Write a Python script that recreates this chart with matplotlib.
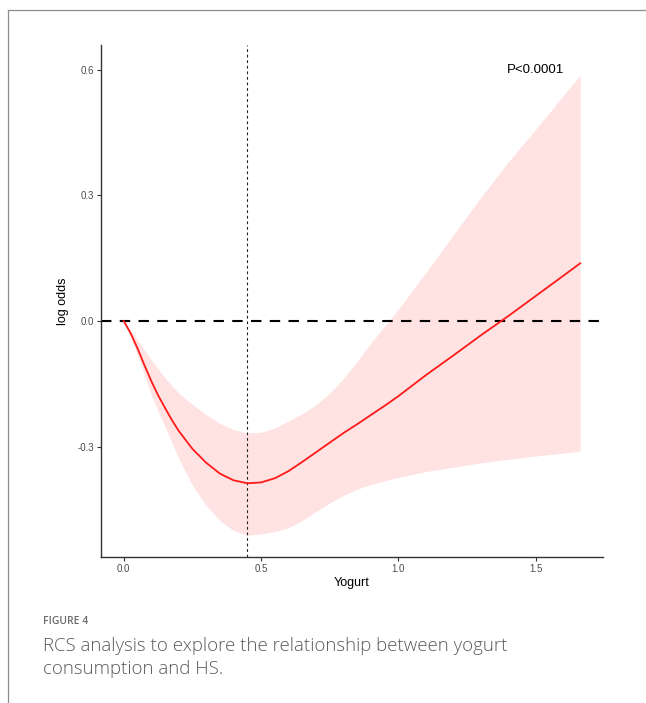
import matplotlib
matplotlib.use('Agg')
import matplotlib.pyplot as plt
from matplotlib.lines import Line2D

# Curva RCS (log odds) para el consumo de yogur, con su intervalo de confianza
yogurt = [0.0, 0.025, 0.05, 0.075, 0.1, 0.125, 0.15, 0.175, 0.2, 0.25, 0.3,
          0.35, 0.4, 0.45, 0.5, 0.55, 0.6, 0.65, 0.7, 0.75, 0.8, 0.85, 0.9,
          0.95, 1.0, 1.1, 1.2, 1.3, 1.4, 1.5, 1.6, 1.662]
log_odds = [0.0, -0.029, -0.065, -0.105, -0.143, -0.177, -0.207, -0.236, -0.262,
            -0.305, -0.338, -0.364, -0.380, -0.387, -0.385, -0.375, -0.358,
            -0.336, -0.313, -0.290, -0.267, -0.246, -0.224, -0.202, -0.179,
            -0.129, -0.082, -0.034, 0.012, 0.060, 0.108, 0.138]
ic_sup = [0.0, -0.022, -0.045, -0.069, -0.092, -0.114, -0.135, -0.154, -0.172,
          -0.199, -0.223, -0.244, -0.259, -0.267, -0.265, -0.255, -0.238,
          -0.221, -0.200, -0.172, -0.137, -0.096, -0.052, -0.012, 0.028,
          0.116, 0.206, 0.295, 0.380, 0.458, 0.538, 0.587]
ic_inf = [0.0, -0.038, -0.080, -0.128, -0.176, -0.215, -0.252, -0.290, -0.328,
          -0.392, -0.440, -0.476, -0.500, -0.511, -0.508, -0.502, -0.493,
          -0.476, -0.455, -0.434, -0.416, -0.401, -0.390, -0.381, -0.373,
          -0.359, -0.349, -0.338, -0.330, -0.322, -0.315, -0.310]

x_ticks = [0.0, 0.5, 1.0, 1.5]
y_ticks = [-0.3, 0.0, 0.3, 0.6]
corte = 0.45
etiqueta_p = 'P<0.0001'

W, H = 646, 703
fig = plt.figure(figsize=(W / 100, H / 100), dpi=100)

# marco de la página
fig.add_artist(Line2D([8 / W, 1], [1 - 10 / H, 1 - 10 / H], color='#8c8c8c', lw=0.9))
fig.add_artist(Line2D([8 / W, 8 / W], [0, 1 - 10 / H], color='#8c8c8c', lw=0.9))

ax = fig.add_axes([101 / W, 1 - 557 / H, (603 - 101) / W, (557 - 45) / H])

ax.fill_between(yogurt, ic_inf, ic_sup, color='#ffe2e2', lw=0, zorder=1)
ax.plot(yogurt, log_odds, color='#ff1a1a', lw=1.3, zorder=3)
ax.axhline(0, color='black', lw=1.5, dashes=(5, 4), zorder=2)
ax.axvline(corte, color='#222222', lw=0.8, dashes=(2.5, 2.5), zorder=2)

ax.text(1.5, 0.6, etiqueta_p, ha='center', va='center', fontsize=9.5,
        family='Liberation Sans', color='black')

ax.set_xlim(-0.083, 1.745)
ax.set_ylim(-0.563, 0.659)
ax.set_xticks(x_ticks)
ax.set_xticklabels(['%.1f' % t for t in x_ticks])
ax.set_yticks(y_ticks)
ax.set_yticklabels(['%.1f' % t for t in y_ticks])

for s in ['top', 'right']:
    ax.spines[s].set_visible(False)
for s in ['left', 'bottom']:
    ax.spines[s].set_color('#333333')
    ax.spines[s].set_linewidth(1.0)

ax.tick_params(axis='both', length=3, width=0.8, color='#333333',
               labelsize=7, labelcolor='#4d4d4d', pad=2)
for lab in ax.get_xticklabels() + ax.get_yticklabels():
    lab.set_family('Liberation Sans')

ax.set_xlabel('Yogurt', fontsize=9, family='Liberation Sans', labelpad=2)
ax.set_ylabel('log odds', fontsize=9, family='Liberation Sans', labelpad=6)

# pie de figura
fig.text(43 / W, 1 - 622 / H, 'FIGURE 4', fontsize=7.5, color='#6b6b6b',
         family='Open Sans', weight='semibold', va='center', ha='left')
fig.text(43 / W, 1 - 646 / H, 'RCS analysis to explore the relationship between yogurt',
         fontsize=13.4, color='#5a5a5a', family='Open Sans', weight='light',
         va='center', ha='left')
fig.text(43 / W, 1 - 669 / H, 'consumption and HS.',
         fontsize=13.4, color='#5a5a5a', family='Open Sans', weight='light',
         va='center', ha='left')

fig.savefig('out.png', dpi=100)
